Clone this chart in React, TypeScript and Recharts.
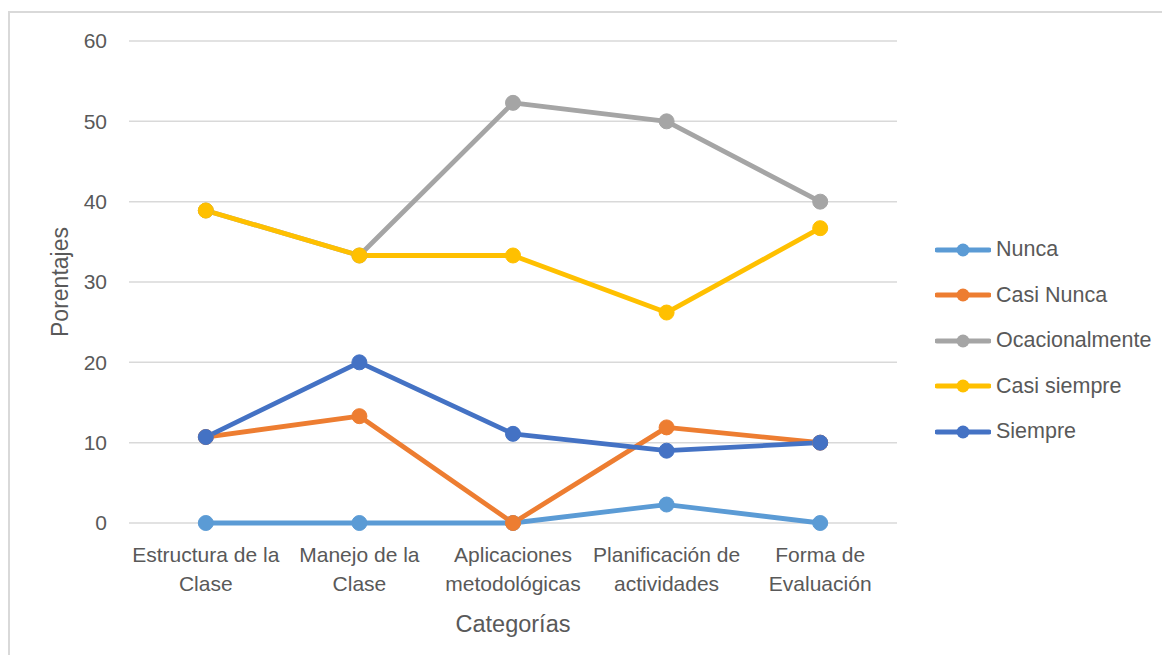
import { LineChart, Line, XAxis, YAxis, CartesianGrid, Legend, Label } from "recharts";

const categories = [
  "Estructura de la\nClase",
  "Manejo de la\nClase",
  "Aplicaciones\nmetodológicas",
  "Planificación de\nactividades",
  "Forma de\nEvaluación",
];
const nunca = [0, 0, 0, 2.3, 0];
const casiNunca = [10.7, 13.3, 0, 11.9, 10];
const ocacionalmente = [38.9, 33.3, 52.3, 50, 40];
const casiSiempre = [38.9, 33.3, 33.3, 26.2, 36.7];
const siempre = [10.7, 20, 11.1, 9, 10];
const yTicks = [0, 10, 20, 30, 40, 50, 60];

const seriesDefs = [
  { key: "nunca", name: "Nunca", color: "#5B9BD5" },
  { key: "casiNunca", name: "Casi Nunca", color: "#ED7D31" },
  { key: "ocacionalmente", name: "Ocacionalmente", color: "#A5A5A5" },
  { key: "casiSiempre", name: "Casi siempre", color: "#FFC000" },
  { key: "siempre", name: "Siempre", color: "#4472C4" },
];

const data = categories.map((c, i) => ({
  cat: c,
  nunca: nunca[i],
  casiNunca: casiNunca[i],
  ocacionalmente: ocacionalmente[i],
  casiSiempre: casiSiempre[i],
  siempre: siempre[i],
}));

const FONT = "'Liberation Sans', Arial, sans-serif";
const TEXT = "#595959";

function CatTick({ x, y, payload }: any) {
  const lines = String(payload.value).split("\n");
  return (
    <text x={x} y={y} textAnchor="middle" fill={TEXT} fontSize={21} fontFamily={FONT}>
      {lines.map((l, i) => (
        <tspan key={i} x={x} dy={i === 0 ? 37 : 29}>
          {l}
        </tspan>
      ))}
    </text>
  );
}

// recharts sorts legend items by name, so keep the series order here
function LegendBox() {
  return (
    <div style={{ paddingLeft: 38, fontFamily: FONT }}>
      {seriesDefs.map((s) => (
        <div key={s.key} style={{ display: "flex", alignItems: "center", height: 45.5 }}>
          <svg width={56} height={16} style={{ flexShrink: 0 }}>
            <line x1={2} y1={8} x2={54} y2={8} stroke={s.color} strokeWidth={5} strokeLinecap="round" />
            <circle cx={28} cy={8} r={6.5} fill={s.color} />
          </svg>
          <span style={{ fontSize: 21.5, color: TEXT, marginLeft: 5, whiteSpace: "nowrap" }}>
            {s.name}
          </span>
        </div>
      ))}
    </div>
  );
}

export default function App() {
  return (
    <div style={{ position: "relative", width: 1170, height: 663, margin: -8, overflow: "hidden", background: "#fff" }}>
      <div
        style={{
          position: "absolute",
          left: 12,
          top: -17,
          fontSize: 20,
          color: TEXT,
          fontFamily: FONT,
          whiteSpace: "nowrap",
        }}
      >
        de los docentes
      </div>
      <div
        style={{
          position: "absolute",
          left: 8,
          top: 11,
          width: 1170,
          height: 670,
          borderLeft: "2px solid #d9d9d9",
          borderTop: "2px solid #d9d9d9",
        }}
      />
      <div style={{ position: "absolute", left: 0, top: 0 }}>
        <LineChart
          width={1170}
          height={663}
          data={data}
          margin={{ top: 41, right: 0, left: 69, bottom: 40 }}
        >
          <CartesianGrid vertical={false} stroke="#d9d9d9" strokeWidth={1.5} />
          <XAxis
            dataKey="cat"
            axisLine={false}
            tickLine={false}
            tickSize={0}
            interval={0}
            height={100}
            padding={{ left: 76.8, right: 76.8 }}
            tick={<CatTick />}
          >
            <Label
              content={({ viewBox }: any) => (
                <text
                  x={viewBox.x + viewBox.width / 2}
                  y={viewBox.y + 109}
                  textAnchor="middle"
                  fill={TEXT}
                  fontSize={23.5}
                  fontFamily={FONT}
                >
                  Categorías
                </text>
              )}
            />
          </XAxis>
          <YAxis
            width={60}
            domain={[0, 60]}
            ticks={yTicks}
            axisLine={false}
            tickLine={false}
            tickSize={0}
            tickMargin={22}
            tick={{ fill: TEXT, fontSize: 21, fontFamily: FONT }}
          >
            <Label
              content={({ viewBox }: any) => {
                const cx = 60;
                const cy = viewBox.y + viewBox.height / 2;
                return (
                  <text
                    x={cx}
                    y={cy}
                    textAnchor="middle"
                    dominantBaseline="central"
                    transform={`rotate(-90, ${cx}, ${cy})`}
                    fill={TEXT}
                    fontSize={23}
                    fontFamily={FONT}
                  >
                    Porentajes
                  </text>
                );
              }}
            />
          </YAxis>
          <Legend
            layout="vertical"
            align="right"
            verticalAlign="middle"
            content={<LegendBox />}
            wrapperStyle={{ width: 273, top: 227 }}
          />
          {seriesDefs.map((s) => (
            <Line
              key={s.key}
              dataKey={s.key}
              name={s.name}
              stroke={s.color}
              strokeWidth={4.8}
              strokeLinejoin="round"
              dot={{ r: 7.5, fill: s.color, stroke: s.color, strokeWidth: 1 }}
              activeDot={false}
              isAnimationActive={false}
            />
          ))}
        </LineChart>
      </div>
    </div>
  );
}
